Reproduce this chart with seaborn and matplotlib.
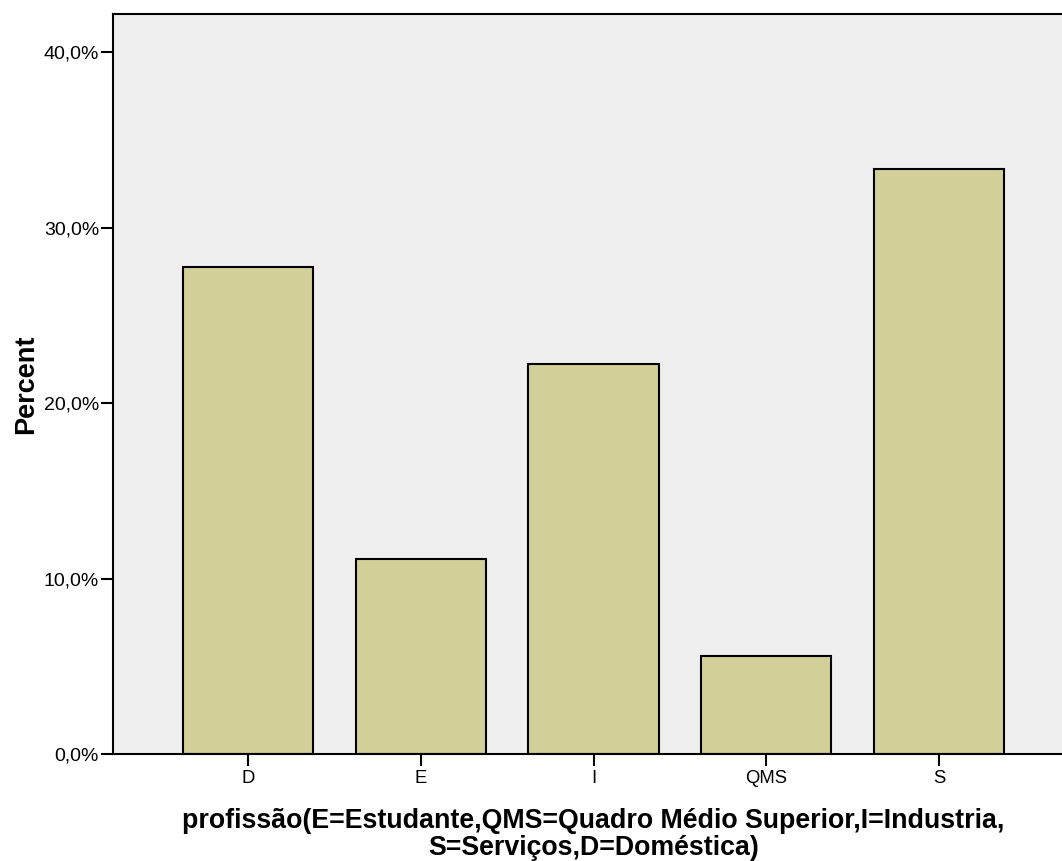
import matplotlib
matplotlib.use("Agg")
import matplotlib.pyplot as plt
import seaborn as sns
import pandas as pd
from matplotlib.ticker import FuncFormatter

categories = ["D", "E", "I", "QMS", "S"]
percent = [27.78, 11.11, 22.22, 5.56, 33.33]

df = pd.DataFrame({"cat": categories, "pct": percent})

sns.set_style("white")
plt.rcParams["font.family"] = ["Liberation Sans", "DejaVu Sans"]
plt.rcParams["text.color"] = "black"
plt.rcParams["axes.labelcolor"] = "black"
plt.rcParams["xtick.color"] = "black"
plt.rcParams["ytick.color"] = "black"

fig = plt.figure(figsize=(10.62, 8.61), dpi=100)
ax = fig.add_axes([113 / 1062, 107 / 861, 961 / 1062, 740 / 861])
ax.set_facecolor("#EFEFEF")

sns.barplot(data=df, x="cat", y="pct", color="#D3CF98", edgecolor="black",
            linewidth=1.5, width=0.753, saturation=1, ax=ax)

ax.set_xlim(-0.78, 4.78)
ax.set_ylim(0, 42.17)
ax.set_yticks([0, 10, 20, 30, 40])
ax.yaxis.set_major_formatter(FuncFormatter(lambda v, p: f"{v:.1f}%".replace(".", ",")))

for s in ax.spines.values():
    s.set_color("black")
    s.set_linewidth(1.5)

ax.tick_params(axis="both", direction="out", length=8.5, width=1.5, color="black",
               pad=3, bottom=True, left=True)
ax.tick_params(axis="y", labelsize=14, pad=1.5)
ax.tick_params(axis="x", labelsize=13.3)

ax.set_ylabel("Percent", fontsize=19.5, fontweight="bold", labelpad=3.5)
ax.set_xlabel("profissão(E=Estudante,QMS=Quadro Médio Superior,I=Industria,\nS=Serviços,D=Doméstica)",
              fontsize=19.3, fontweight="bold", labelpad=15, linespacing=1.05)

fig.savefig("out.png", dpi=100)
